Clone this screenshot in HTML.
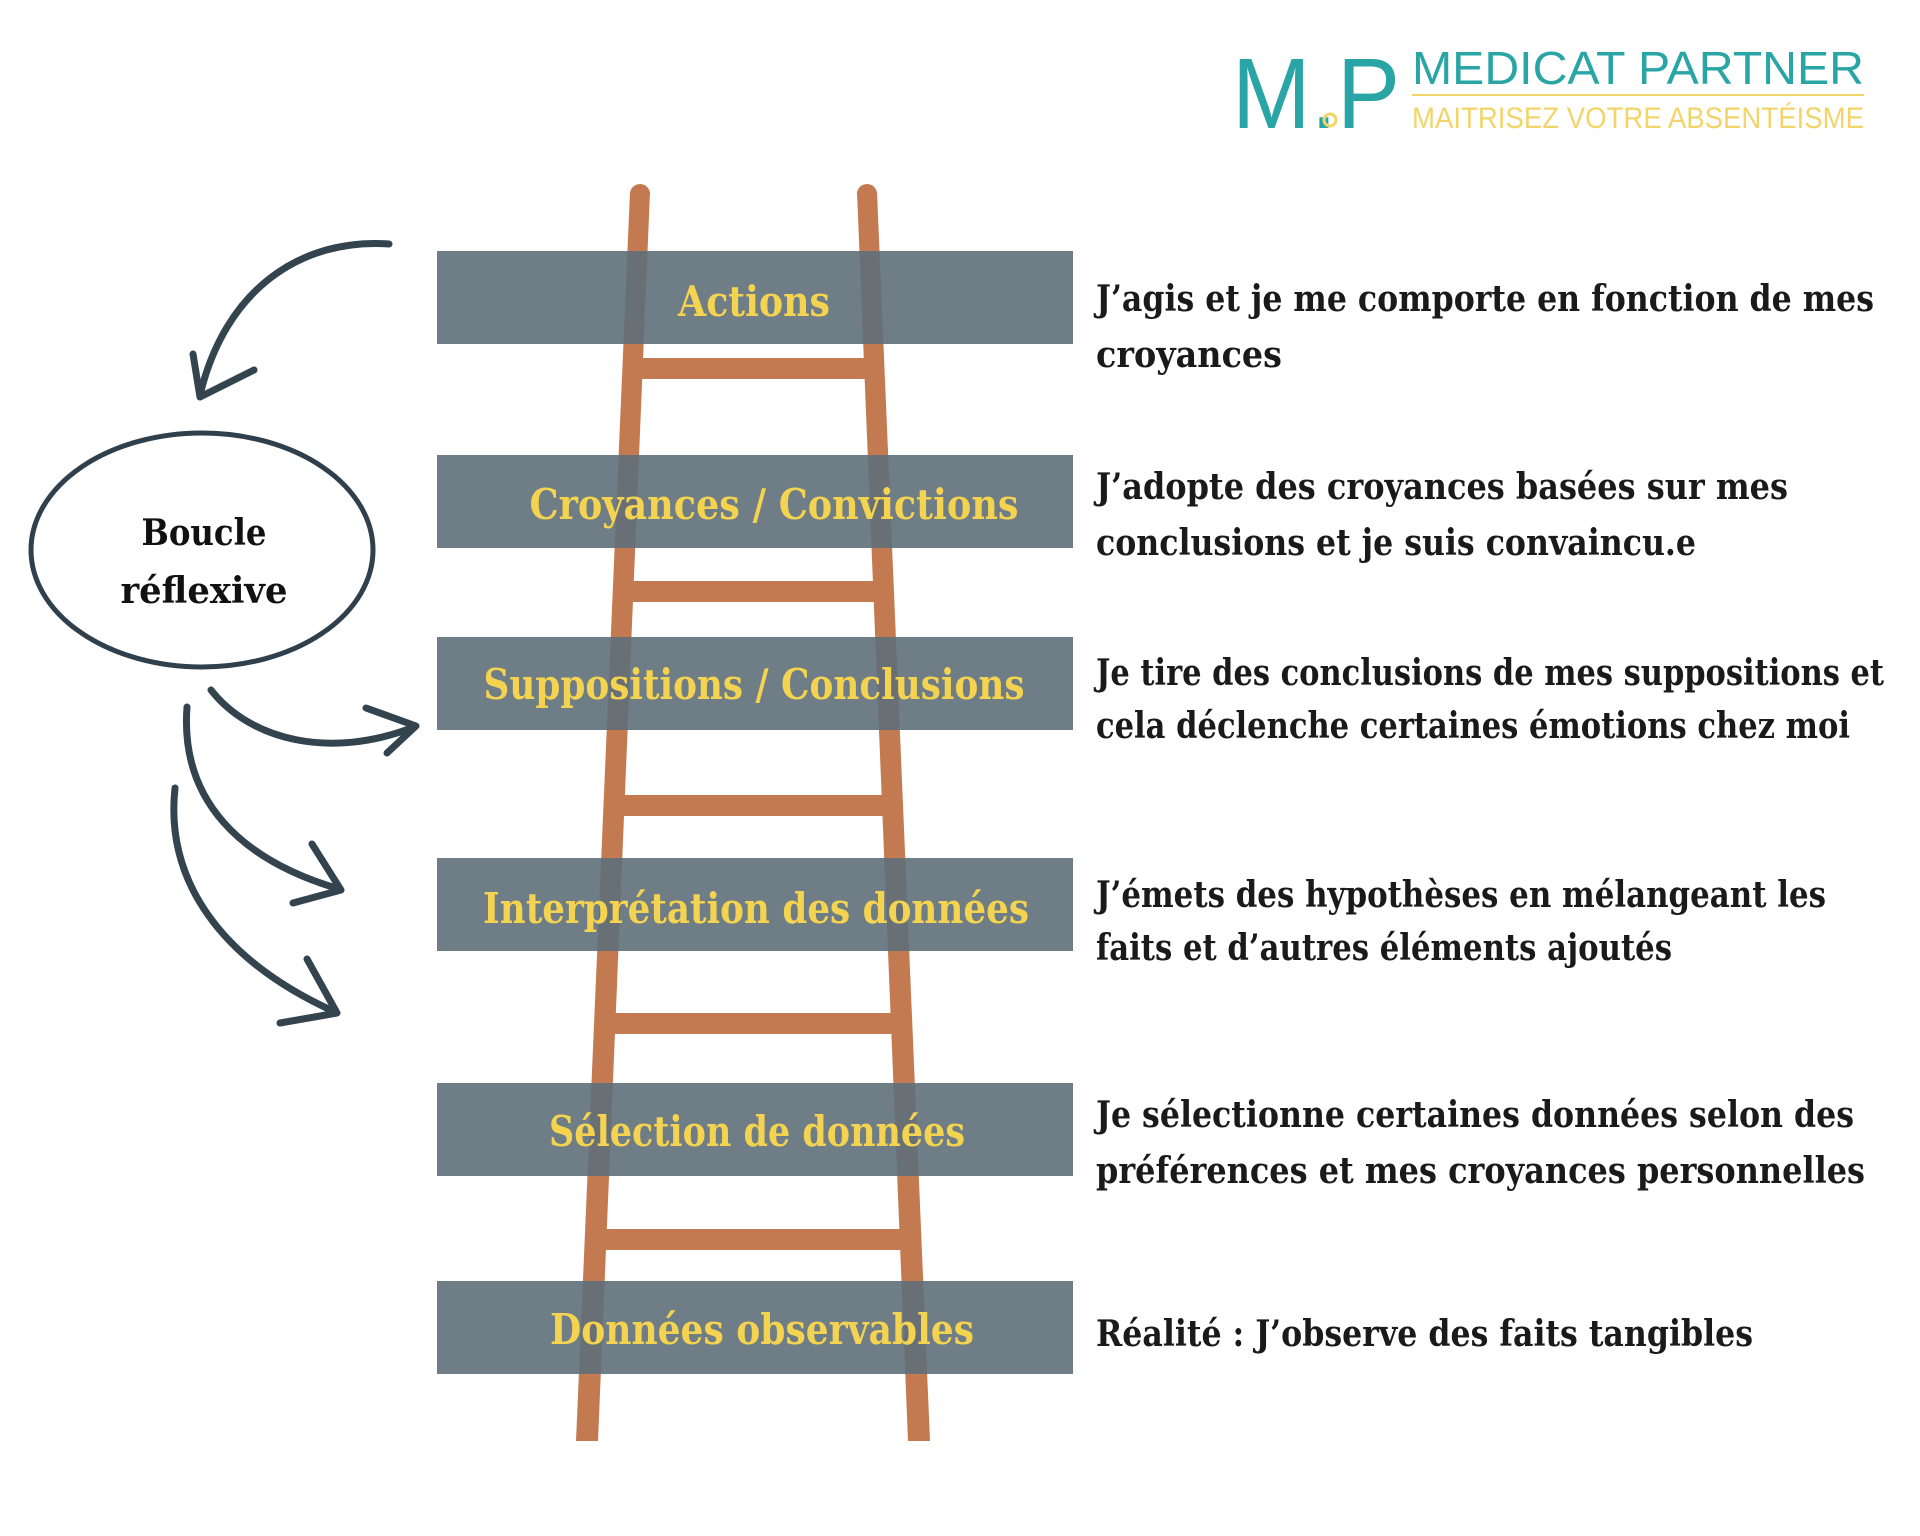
<!DOCTYPE html>
<html><head><meta charset="utf-8"><style>
html,body{margin:0;padding:0;background:#fff;}
svg{display:block;}
</style></head><body>
<svg width="1920" height="1536" viewBox="0 0 1920 1536" xmlns="http://www.w3.org/2000/svg">
<rect width="1920" height="1536" fill="#fff"/>
<g font-family="Liberation Sans, sans-serif">
<text x="1232" y="128" font-size="100" fill="#2aa5a6" textLength="168" lengthAdjust="spacingAndGlyphs">M.P</text>
<circle cx="1330" cy="120" r="6" fill="none" stroke="#f2d56a" stroke-width="3"/>
<text x="1412" y="84" font-size="46" fill="#2aa5a6" textLength="452" lengthAdjust="spacingAndGlyphs">MEDICAT PARTNER</text>
<rect x="1412" y="94" width="452" height="2" fill="#f2d56a"/>
<text x="1412" y="128" font-size="30" fill="#f2d56a" textLength="452" lengthAdjust="spacingAndGlyphs">MAITRISEZ VOTRE ABSENTÉISME</text>
</g>
<g fill="#c47a50">
<polygon points="630,192 650,192 598,1441 576,1441"/>
<polygon points="857,192 877,192 930,1441 908,1441"/>
<circle cx="640" cy="194" r="10"/><circle cx="867" cy="194" r="10"/>
<rect x="640" y="358" width="225" height="21"/>
<rect x="630" y="581" width="245" height="21"/>
<rect x="620" y="795" width="265" height="21"/>
<rect x="610" y="1013" width="285" height="21"/>
<rect x="600" y="1229" width="305" height="21"/>
</g>
<g fill="#5e6f79" fill-opacity="0.9">
<rect x="437" y="251" width="636" height="93"/>
<rect x="437" y="455" width="636" height="93"/>
<rect x="437" y="637" width="636" height="93"/>
<rect x="437" y="858" width="636" height="93"/>
<rect x="437" y="1083" width="636" height="93"/>
<rect x="437" y="1281" width="636" height="93"/>
</g>
<g font-family="DejaVu Serif, Liberation Serif, serif" font-weight="bold" font-size="42" fill="#f4d350" text-anchor="middle">
<text x="754" y="316" textLength="152" lengthAdjust="spacingAndGlyphs">Actions</text>
<text x="774" y="519" textLength="489" lengthAdjust="spacingAndGlyphs">Croyances / Convictions</text>
<text x="754" y="699" textLength="541" lengthAdjust="spacingAndGlyphs">Suppositions / Conclusions</text>
<text x="756" y="923" textLength="546" lengthAdjust="spacingAndGlyphs">Interprétation des données</text>
<text x="757" y="1146" textLength="416" lengthAdjust="spacingAndGlyphs">Sélection de données</text>
<text x="762" y="1344" textLength="424" lengthAdjust="spacingAndGlyphs">Données observables</text>
</g>
<g font-family="DejaVu Serif, Liberation Serif, serif" font-weight="bold" font-size="36" fill="#1a1a1a">
<text x="1096" y="311" textLength="778" lengthAdjust="spacingAndGlyphs">J’agis et je  me comporte en fonction de mes</text>
<text x="1096" y="367" textLength="186" lengthAdjust="spacingAndGlyphs">croyances</text>
<text x="1096" y="499" textLength="692" lengthAdjust="spacingAndGlyphs">J’adopte des croyances basées sur mes</text>
<text x="1096" y="555" textLength="600" lengthAdjust="spacingAndGlyphs">conclusions et je suis convaincu.e</text>
<text x="1096" y="685" textLength="788" lengthAdjust="spacingAndGlyphs">Je tire des conclusions de mes suppositions et</text>
<text x="1096" y="738" textLength="754" lengthAdjust="spacingAndGlyphs">cela déclenche certaines émotions chez moi</text>
<text x="1096" y="907" textLength="730" lengthAdjust="spacingAndGlyphs">J’émets des hypothèses en mélangeant les</text>
<text x="1096" y="960" textLength="576" lengthAdjust="spacingAndGlyphs">faits et d’autres éléments ajoutés</text>
<text x="1096" y="1127" textLength="758" lengthAdjust="spacingAndGlyphs">Je sélectionne certaines données selon des</text>
<text x="1096" y="1183" textLength="769" lengthAdjust="spacingAndGlyphs">préférences et mes croyances personnelles</text>
<text x="1096" y="1346" textLength="657" lengthAdjust="spacingAndGlyphs">Réalité : J’observe des faits tangibles</text>
</g>
<ellipse cx="202" cy="550" rx="171" ry="117" fill="none" stroke="#2f3f4b" stroke-width="5"/>
<g font-family="DejaVu Serif, Liberation Serif, serif" font-weight="bold" font-size="36" fill="#111" text-anchor="middle">
<text x="204" y="545" textLength="125" lengthAdjust="spacingAndGlyphs">Boucle</text>
<text x="204" y="603" textLength="167" lengthAdjust="spacingAndGlyphs">réflexive</text>
</g>
<g fill="none" stroke="#33444f" stroke-width="7" stroke-linecap="round" stroke-linejoin="round">
<path d="M389,244 C300,238 225,290 200,395"/>
<path d="M193,354 L200,397 L254,370"/>
<path d="M211,690 C250,740 330,760 414,727"/>
<path d="M366,708 L416,726 L387,753"/>
<path d="M187,707 C180,800 240,860 339,889"/>
<path d="M312,844 L341,890 L293,903"/>
<path d="M175,788 C165,880 220,960 335,1012"/>
<path d="M307,959 L337,1013 L280,1023"/>
</g>
</svg>
</body></html>
